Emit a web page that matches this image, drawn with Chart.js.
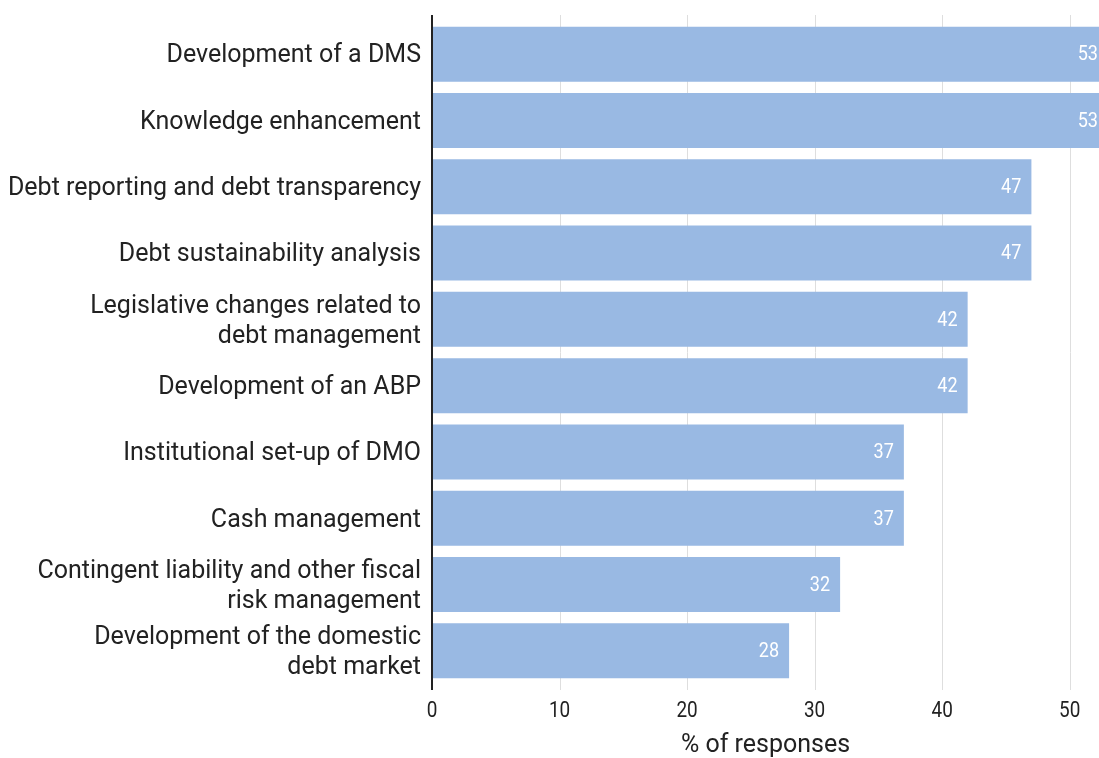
<!DOCTYPE html>
<html>
<head>
<meta charset="utf-8">
<script src="https://cdn.jsdelivr.net/npm/chart.js@4/dist/chart.umd.min.js"></script>
<style>
  html, body { margin: 0; padding: 0; background: #ffffff; }
  #wrap { width: 1099px; height: 758px; position: relative; }
</style>
</head>
<body>
<div id="wrap"><canvas id="c"></canvas></div>
<script>
// Areas where support is requested, share of responses (%)
const categories = [
  'Development of a DMS',
  'Knowledge enhancement',
  'Debt reporting and debt transparency',
  'Debt sustainability analysis',
  ['Legislative changes related to', 'debt management'],
  'Development of an ABP',
  'Institutional set-up of DMO',
  'Cash management',
  ['Contingent liability and other fiscal', 'risk management'],
  ['Development of the domestic', 'debt market']
];
const shares = [53, 53, 47, 47, 42, 42, 37, 37, 32, 28];
const xTicks = [0, 10, 20, 30, 40, 50];
const axisTitle = '% of responses';

const FONT = 'Roboto, "Noto Sans", sans-serif';
const BAR = '#99b9e3';
const INK = '#222222';
const GRID = '#dedede';
const NARROW = 0.86; // horizontal squeeze for the numeric labels

// Grid lines and the vertical axis line, drawn a little past the plot area
const frameLines = {
  id: 'frameLines',
  beforeDatasetsDraw(chart) {
    const { ctx, chartArea } = chart;
    const x = chart.scales.x;
    const top = chartArea.top - 6, bottom = chartArea.bottom + 6;
    ctx.save();
    ctx.strokeStyle = GRID;
    ctx.lineWidth = 1;
    xTicks.forEach(v => {
      if (v === 0) return;
      const px = Math.round(x.getPixelForValue(v)) + 0.5;
      ctx.beginPath();
      ctx.moveTo(px, top);
      ctx.lineTo(px, bottom);
      ctx.stroke();
    });
    ctx.restore();
  },
  afterDatasetsDraw(chart) {
    const { ctx, chartArea } = chart;
    const x = chart.scales.x;
    const px = x.getPixelForValue(0);
    ctx.save();
    ctx.strokeStyle = INK;
    ctx.lineWidth = 2;
    ctx.beginPath();
    ctx.moveTo(px, chartArea.top - 6);
    ctx.lineTo(px, chartArea.bottom + 6);
    ctx.stroke();
    ctx.restore();
  }
};

function narrowText(ctx, text, x, y, align) {
  ctx.save();
  ctx.translate(x, y);
  ctx.scale(NARROW, 1);
  ctx.textAlign = align;
  ctx.textBaseline = 'middle';
  ctx.fillText(text, 0, 0);
  ctx.restore();
}

// Value labels inside the end of each bar, and the x tick labels
const numberLabels = {
  id: 'numberLabels',
  afterDatasetsDraw(chart) {
    const { ctx, chartArea } = chart;
    const meta = chart.getDatasetMeta(0);
    const xs = chart.scales.x;
    ctx.save();
    ctx.fillStyle = '#ffffff';
    ctx.font = '21px ' + FONT;
    meta.data.forEach((bar, i) => {
      const v = chart.data.datasets[0].data[i];
      narrowText(ctx, String(v), xs.getPixelForValue(v) - 10, bar.y + 1, 'right');
    });
    ctx.fillStyle = INK;
    ctx.font = '22px ' + FONT;
    xTicks.forEach(v => {
      narrowText(ctx, String(v), xs.getPixelForValue(v), chartArea.bottom + 27, 'center');
    });
    ctx.restore();
  }
};

new Chart(document.getElementById('c'), {
  type: 'bar',
  data: {
    labels: categories,
    datasets: [{
      data: shares,
      backgroundColor: BAR,
      borderWidth: 0,
      barPercentage: 0.83,
      categoryPercentage: 1.0
    }]
  },
  options: {
    indexAxis: 'y',
    responsive: true,
    maintainAspectRatio: false,
    animation: false,
    layout: { padding: { top: 21, right: 0, left: 0, bottom: 0 } },
    plugins: {
      legend: { display: false },
      tooltip: { enabled: false }
    },
    scales: {
      x: {
        type: 'linear',
        min: 0,
        max: 52.3,
        afterBuildTicks(scale) { scale.ticks = xTicks.map(v => ({ value: v })); },
        afterFit(scale) {
          scale.height = 74;
          scale.paddingLeft = 0;
          scale.paddingRight = 0;
        },
        grid: { display: false, drawTicks: false },
        border: { display: false },
        ticks: { display: false },
        title: {
          display: true,
          text: axisTitle,
          color: INK,
          font: { family: FONT, size: 25, lineHeight: 1.2 },
          padding: { top: 0, bottom: -3 }
        }
      },
      y: {
        type: 'category',
        afterFit(scale) {
          scale.width = 432;
          scale.paddingTop = 0;
          scale.paddingBottom = 0;
        },
        grid: { display: false, drawTicks: false },
        border: { display: false },
        ticks: {
          color: INK,
          font: { family: FONT, size: 25, lineHeight: 1.2 },
          padding: 11,
          labelOffset: 2,
          autoSkip: false
        }
      }
    }
  },
  plugins: [frameLines, numberLabels]
});
</script>
</body>
</html>
